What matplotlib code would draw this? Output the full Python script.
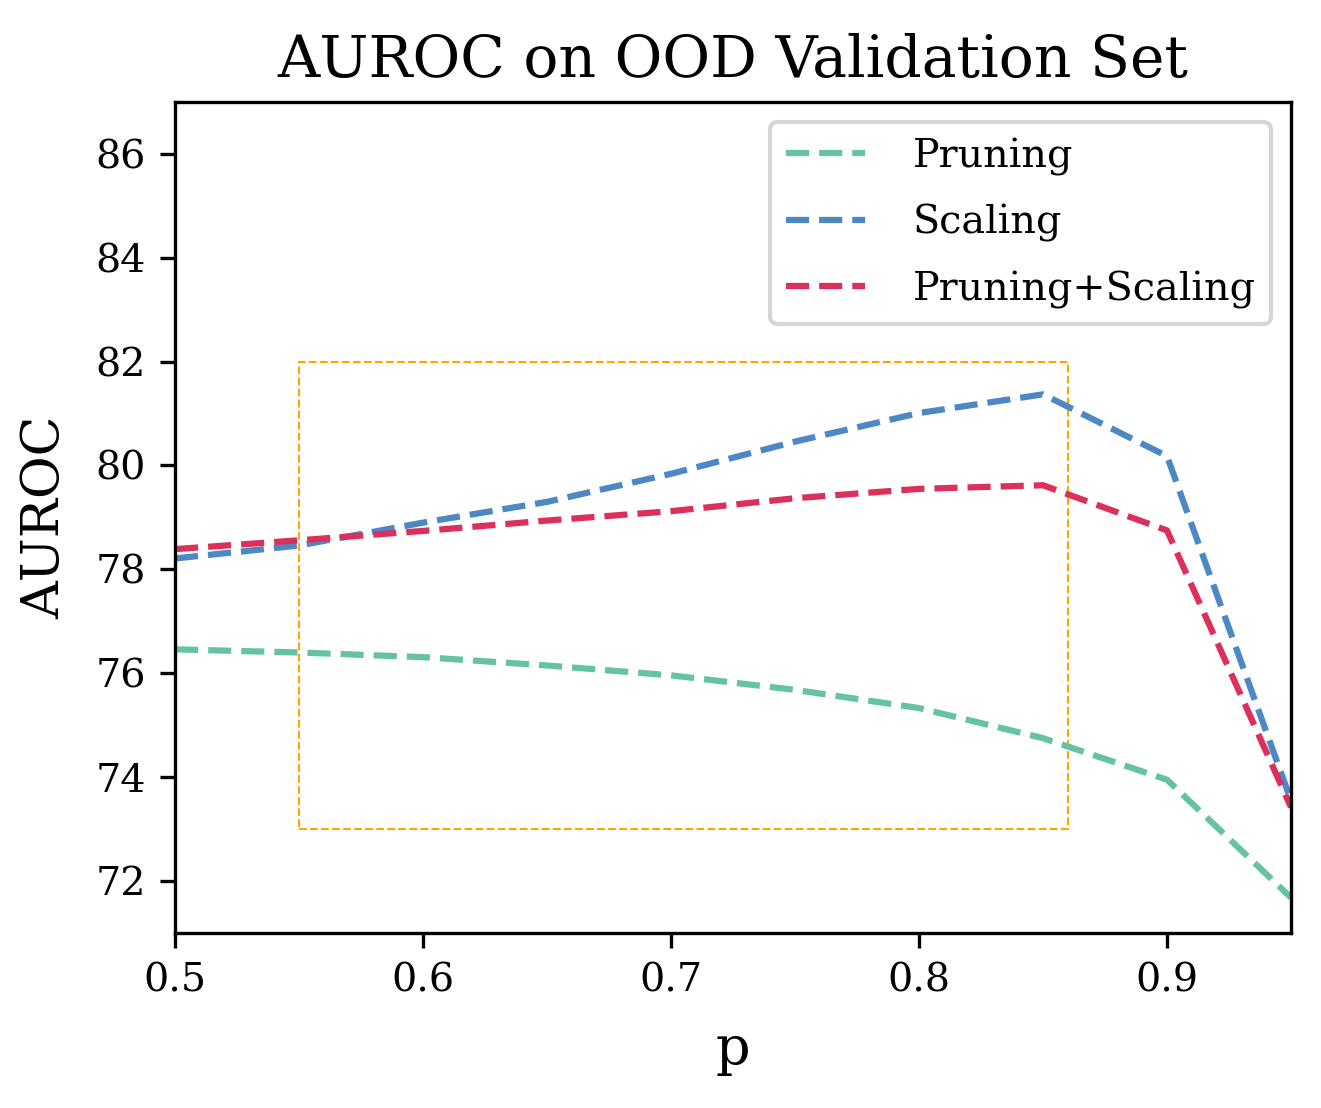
import matplotlib
matplotlib.use("Agg")
import matplotlib.pyplot as plt
from matplotlib.patches import Rectangle

# values
p_values = [0.5, 0.55, 0.6, 0.65, 0.7, 0.75, 0.8, 0.85, 0.9, 0.95]
pruning = [76.46, 76.40, 76.31, 76.15, 75.96, 75.68, 75.33, 74.75, 73.95, 71.68]
scaling = [78.21, 78.46, 78.90, 79.30, 79.84, 80.46, 81.01, 81.37, 80.18, 73.55]
pruning_scaling = [78.39, 78.56, 78.74, 78.94, 79.12, 79.37, 79.55, 79.62, 78.75, 73.42]

series_names = ["Pruning", "Scaling", "Pruning+Scaling"]
series_colors = ["#66c2a5", "#4c88c4", "#dc305c"]

# highlighted region (p range, AUROC range)
box_p = (0.55, 0.86)
box_auroc = (73, 82)

plt.rcParams['font.family'] = ['DejaVu Serif']

fig = plt.figure(figsize=(1321 / 300, 1108 / 300), dpi=300)
ax = fig.add_axes([0.1325, 0.158, 0.8448, 0.750])

for vals, name, col in zip([pruning, scaling, pruning_scaling], series_names, series_colors):
    ax.plot(p_values, vals, linestyle='--', color=col, linewidth=1.5, label=name)

rect = Rectangle((box_p[0], box_auroc[0]), box_p[1] - box_p[0], box_auroc[1] - box_auroc[0],
                 fill=False, edgecolor='orange', linestyle='--', linewidth=0.5)
ax.add_patch(rect)

ax.set_xlim(0.5, 0.95)
ax.set_ylim(71, 87)
ax.set_yticks([72, 74, 76, 78, 80, 82, 84, 86])
ax.set_xticks([0.5, 0.6, 0.7, 0.8, 0.9])
ax.tick_params(labelsize=9.5)

ax.set_title('AUROC on OOD Validation Set', fontsize=14)
ax.set_xlabel('p', fontsize=13, labelpad=6)
ax.set_ylabel('AUROC', fontsize=12.5, labelpad=6)
ax.legend(loc='upper right', fontsize=9.5, handletextpad=1.2, labelspacing=0.72)

fig.savefig('out.png', dpi=300)
